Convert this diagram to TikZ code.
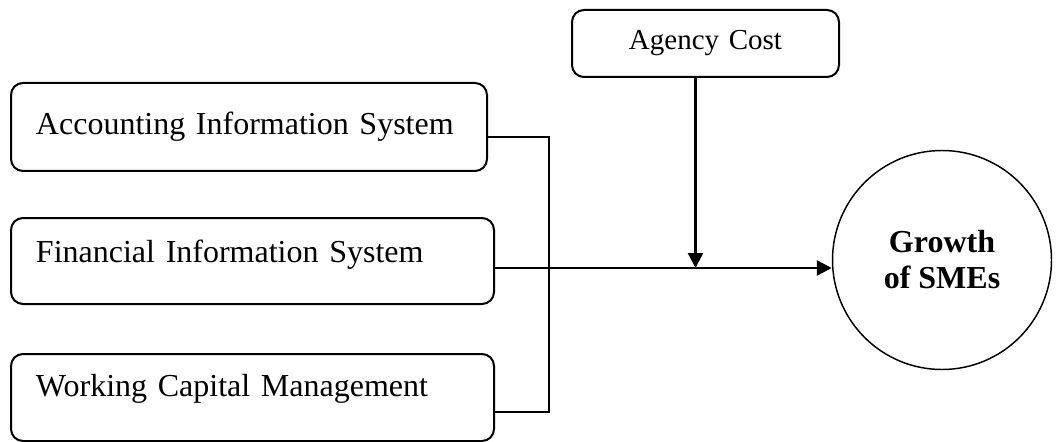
\documentclass[tikz,border=0pt]{standalone}
\usepackage{fontspec}
\setmainfont{Liberation Serif}
\usepackage{tikz}
\usetikzlibrary{arrows.meta}

\tikzset{
    factor/.style = {draw , line width = 1.5pt , rounded corners = 9pt , anchor = north west ,
        align = left , inner xsep = 18.75pt , inner ysep = 0pt , font = \fontsize{24}{28}\selectfont},
    flow/.style = {line width = 1.8pt},
    tip/.style = {-{Triangle[length = 11.25pt , width = 11.25pt]}}
}

\begin{document}
\begin{tikzpicture}[x = 0.75pt , y = -0.75pt]
    \useasboundingbox (0,0) rectangle (1056,442);
    % Κουτιά
    \node[factor , text width = 319.5pt , text height = 39pt , text depth = 27pt] (ais) at (10,82) {Accounting Information System};
    \node[factor , text width = 324.75pt , text height = 33pt , text depth = 31.5pt] (fis) at (10,217) {Financial Information System};
    \node[factor , text width = 324.75pt , text height = 31.5pt , text depth = 33.75pt] (wcm) at (10,353) {Working Capital Management};
    \node[factor , align = center , inner xsep = 0pt , text width = 200.25pt , text height = 30pt , text depth = 20.25pt ,
        font = \fontsize{21.75}{26}\selectfont] (agency) at (571,9) {Agency Cost};
    % Κύκλος
    \node[draw , circle , line width = 1.1pt , minimum size = 164.25pt , inner sep = 0pt , align = center ,
        font = \fontsize{24}{27}\selectfont\bfseries] (growth) at (942,260) {Growth\\of SMEs};
    % Γραμμές
    \coordinate (ais out) at ([yshift = -7.5pt]ais.east);
    \coordinate (fis out) at ([yshift = -5.25pt]fis.east);
    \coordinate (wcm out) at ([yshift = -10.9pt]wcm.east);
    \coordinate (bus) at (549,0);
    \coordinate (agency out) at ([xshift = -7.5pt]agency.south);
    \draw[flow] (ais out) -| (bus |- wcm out) -- (wcm out);
    \draw[flow , tip] (fis out) -- (fis out -| growth.west);
    \draw[flow , tip] (agency out) -- (agency out |- fis out);
\end{tikzpicture}
\end{document}
